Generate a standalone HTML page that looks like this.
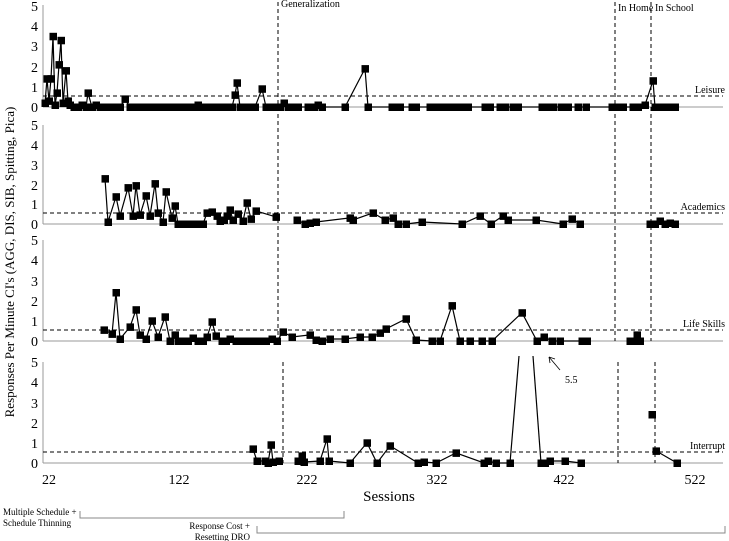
<!DOCTYPE html>
<html><head><meta charset="utf-8">
<style>
html,body{margin:0;padding:0;background:#fff;}
svg{display:block;font-family:"Liberation Serif",serif;}
</style></head>
<body>
<svg id="s" width="729" height="541" viewBox="0 0 729 541" xmlns="http://www.w3.org/2000/svg">
<g stroke="#999" stroke-width="1" fill="none">
<line x1="43" y1="5" x2="43" y2="107"/><line x1="43" y1="107" x2="723" y2="107"/>
<line x1="43" y1="125" x2="43" y2="224"/><line x1="43" y1="224" x2="723" y2="224"/>
<line x1="43" y1="240" x2="43" y2="341"/><line x1="43" y1="341" x2="723" y2="341"/>
<line x1="43" y1="362" x2="43" y2="463"/><line x1="43" y1="463" x2="723" y2="463"/>
</g>
<g stroke="#000" stroke-width="1" stroke-dasharray="4,3" fill="none">
<line x1="43" y1="96" x2="723" y2="96"/>
<line x1="43" y1="213" x2="723" y2="213"/>
<line x1="43" y1="330" x2="723" y2="330"/>
<line x1="43" y1="452" x2="723" y2="452"/>
<line x1="278" y1="2" x2="278" y2="341"/>
<line x1="615" y1="2" x2="615" y2="341"/>
<line x1="651" y1="2" x2="651" y2="341"/>
<line x1="283" y1="362" x2="283" y2="463"/>
<line x1="618" y1="362" x2="618" y2="463"/>
<line x1="655" y1="362" x2="655" y2="463"/>
</g>
<g id="data"></g>
<g stroke="#000" stroke-width="1.2" fill="none">
<polyline points="510,463 519,356"/>
<polyline points="533,356 541,463"/>
</g>
<g font-size="14" text-anchor="end">
<text x="38" y="11">5</text><text x="38" y="31">4</text><text x="38" y="51">3</text><text x="38" y="72">2</text><text x="38" y="92">1</text><text x="38" y="112">0</text>
<text x="38" y="130">5</text><text x="38" y="150">4</text><text x="38" y="170">3</text><text x="38" y="190">2</text><text x="38" y="209">1</text><text x="38" y="229">0</text>
<text x="38" y="245">5</text><text x="38" y="265">4</text><text x="38" y="286">3</text><text x="38" y="306">2</text><text x="38" y="326">1</text><text x="38" y="346">0</text>
<text x="38" y="367">5</text><text x="38" y="387">4</text><text x="38" y="408">3</text><text x="38" y="428">2</text><text x="38" y="448">1</text><text x="38" y="468">0</text>
</g>
<g font-size="14" text-anchor="middle">
<text x="49" y="484">22</text><text x="179" y="484">122</text><text x="307" y="484">222</text>
<text x="437" y="484">322</text><text x="564" y="484">422</text><text x="695" y="484">522</text>
</g>
<text x="389" y="501" font-size="15" text-anchor="middle">Sessions</text>
<text transform="translate(14,262) rotate(-90)" font-size="13" text-anchor="middle">Responses Per Minute CI's (AGG, DIS, SIB, Spitting, Pica)</text>
<g font-size="10" text-anchor="end">
<text x="725" y="93">Leisure</text><text x="725" y="210">Academics</text>
<text x="725" y="327">Life Skills</text><text x="725" y="449">Interrupt</text>
</g>
<g font-size="10">
<text x="281" y="7">Generalization</text><text x="618" y="11">In Home</text><text x="655" y="11">In School</text>
<text x="565" y="383">5.5</text>
<text x="3" y="515" font-size="9">Multiple Schedule +</text>
<text x="3" y="526" font-size="9">Schedule Thinning</text>
<text x="250" y="529" font-size="9" text-anchor="end">Response Cost +</text>
<text x="250" y="540" font-size="9" text-anchor="end">Resetting DRO</text>
</g>
<g stroke="#000" fill="none" stroke-width="0.8">
<line x1="560" y1="370" x2="549" y2="357"/>
<path d="M549,357 l1,6 M549,357 l6,2"/>
</g>
<g stroke="#888" fill="none" stroke-width="1">
<path d="M80,511 V518 H344 V511"/>
<path d="M257,526 V533 H725 V526"/>
</g>
</svg>
<script>
var P=[
{y0:107,d:[[45,.2],[47,1.4],[49,.3],[51,1.4],[53,3.5],[55,.1],[57,.7],[59,2.1],[61,3.3],[63,.2],[66,1.8],[68,.3],[70,.1],[74,0],[78,0],[82,.1],[86,0],[88,.7],[92,0],[96,.1],[100,0],[104,0],[108,0],[112,0],[116,0],[120,0],[125,.4],[130,0],[135,0],[140,0],[145,0],[150,0],[155,0],[160,0],[165,0],[170,0],[175,0],[180,0],[185,0],[190,0],[195,0],[198,.1],[202,0],[207,0],[212,0],[217,0],[222,0],[227,0],[232,0],[235,.6],[237,1.2],[240,0],[245,0],[250,0],[255,0],[262,.9],[266,0],[273,0],[280,0],[284,.2],[288,0],[293,0],[298,0],[308,0],[314,0],[318,.1],[322,0],[345,0],[365,1.9],[368,0],[392,0],[396,0],[400,0],[412,0],[416,0],[430,0],[436,0],[441,0],[446,0],[451,0],[456,0],[461,0],[468,0],[485,0],[490,0],[500,0],[505,0],[513,0],[518,0],[542,0],[548,0],[553,0],[561,0],[568,0],[578,0],[586,0],[612,0],[618,0],[623,0],[633,0],[638,0],[645,.1],[653,1.3],[655,0],[660,0],[665,0],[670,0],[675,0]]},
{y0:224,d:[[105,2.25],[108,.1],[116,1.35],[120,.4],[128,1.8],[133,.4],[136,1.9],[140,.45],[146,1.4],[150,.4],[155,2],[158,.55],[163,.1],[166,1.6],[172,.3],[175,.9],[178,0],[183,0],[188,0],[193,0],[198,0],[203,0],[207,.55],[212,.6],[217,.4],[220,.15],[224,.2],[227,.4],[230,.7],[233,.2],[238,.5],[243,.15],[247,1.05],[251,.25],[256,.65],[276,.35]]},
{y0:224,d:[[297,.2],[305,0],[310,.05],[316,.1],[350,.3],[353,.2],[373,.55],[385,.2],[393,.3],[398,0],[406,0],[422,.1],[462,0],[480,.4],[491,0],[503,.4],[508,.2],[536,.2],[563,0],[572,.25],[580,0]]},
{y0:224,d:[[650,0],[655,0],[660,.15],[665,0],[670,.05],[675,0]]},
{y0:341,d:[[104,.55],[112,.35],[116,2.4],[120,.1],[130,.7],[136,1.55],[140,.3],[146,.1],[152,1],[158,.2],[165,1.2],[170,0],[175,.3],[178,0],[183,0],[188,0],[193,.15],[198,0],[203,0],[207,.2],[212,.95],[216,.25],[222,0],[226,0],[230,.1],[236,0],[241,0],[246,0],[251,0],[256,0],[261,0],[266,0],[272,.1],[277,0],[283,.45],[292,.2],[310,.3],[316,.05],[322,0],[330,.1],[345,.1],[360,.2],[372,.2],[380,.4],[386,.6],[406,1.1],[416,.05],[432,0],[440,0],[452,1.75],[460,0],[470,0],[482,0],[492,0],[522,1.4],[537,0],[544,.2],[552,0],[560,0],[582,0],[587,0]]},
{y0:341,d:[[630,0],[634,0],[637,.3],[640,0]]},
{y0:463,d:[[253,.7],[257,.1],[265,.1],[268,0],[271,.9],[273,.05],[279,.1]]},
{y0:463,d:[[298,.1],[302,.35],[304,.05],[320,.1],[327,1.2],[329,.1],[350,0],[367,1],[377,0],[390,.85],[418,0],[424,.05],[436,0],[456,.5],[484,0],[488,.1],[496,0],[510,0]]},
{y0:463,d:[[541,0],[545,0],[550,.1],[565,.1],[581,0]]},
{y0:463,d:[[652,2.4]]},
{y0:463,d:[[656,.6],[677,0]]}
];
var g=document.getElementById('data'),h='';
P.forEach(function(p){
 var pts=p.d.map(function(q){return [q[0],p.y0-q[1]*20.2];});
 if(pts.length>1) h+='<polyline fill="none" stroke="#000" stroke-width="1.2" points="'+pts.map(function(a){return a[0]+','+a[1].toFixed(1)}).join(' ')+'"/>';
 pts.forEach(function(a){ h+='<rect x="'+(a[0]-3.5)+'" y="'+(a[1]-3.5).toFixed(1)+'" width="7.5" height="7.5" fill="#000"/>';});
});
g.innerHTML=h;
</script>
</body></html>
